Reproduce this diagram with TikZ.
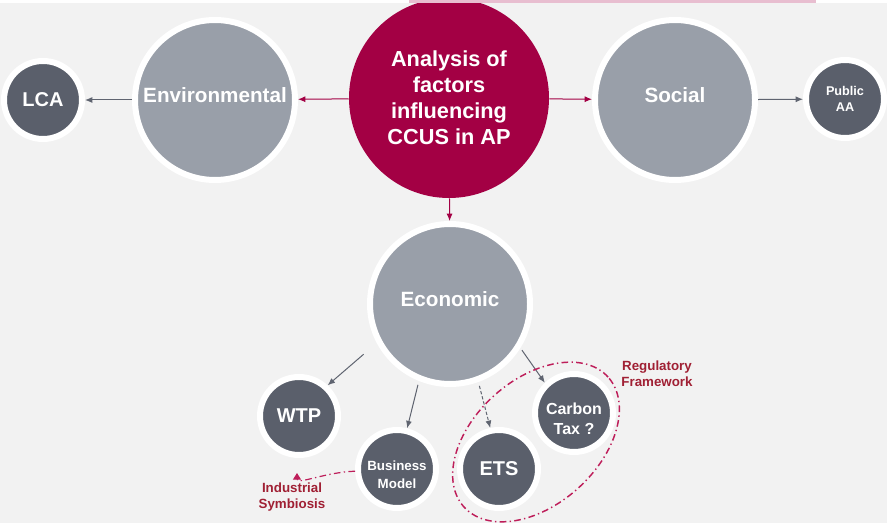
\documentclass[tikz,border=0pt]{standalone}
\usepackage{fontspec}
\setmainfont{Liberation Sans}
\usetikzlibrary{arrows.meta}

\definecolor{bg}{RGB}{242,242,242}
\definecolor{crim}{RGB}{163,0,68}
\definecolor{midgrey}{RGB}{153,159,169}
\definecolor{darkgrey}{RGB}{90,95,107}
\definecolor{linegrey}{RGB}{95,100,112}
\definecolor{labred}{RGB}{160,32,52}
\definecolor{dashred}{RGB}{190,30,90}
\definecolor{topband}{RGB}{232,190,208}

\tikzstyle{big} = [circle, fill=crim, minimum size=150pt, inner sep=0pt, text=white, align=center, font=\fontsize{16.3}{19.5}\selectfont\bfseries]
\tikzstyle{mid} = [circle, fill=midgrey, draw=white, line width=4.5pt, minimum size=120pt, inner sep=0pt, text=white, align=center, text depth=8pt, font=\fontsize{15.5}{18}\selectfont\bfseries]
\tikzstyle{small} = [circle, fill=darkgrey, draw=white, line width=4.5pt, minimum size=58.5pt, inner sep=0pt, text=white, align=center, font=\fontsize{15}{18}\selectfont\bfseries]
\tikzstyle{lab} = [text=labred, align=center, font=\fontsize{10}{12}\selectfont\bfseries]

\begin{document}
\begin{tikzpicture}[x=0.75pt,y=-0.75pt,>={Latex[length=5.5pt,width=4.5pt]}]
\useasboundingbox (0,0) rectangle (887,523);
\fill[bg] (0,0) rectangle (887,523);

\node[big] (Analysis) at (449,98) {Analysis of\\factors\\influencing\\CCUS in AP};

\node[mid] (Env) at (215,100) {Environmental};
\node[mid] (Soc) at (675,100) {Social};
\node[mid] (Eco) at (450,304) {Economic};

\node[small] (LCA) at (43,100) {LCA};
\node[small, font=\fontsize{9.5}{12}\selectfont\bfseries] (Public) at (845,99) {Public\\AA};
\node[small] (WTP) at (299,416) {WTP};
\node[small, text height=29.5pt, font=\fontsize{10}{13.5}\selectfont\bfseries] (BM) at (397,469) {Business\\Model};
\node[small] (ETS) at (499,469) {ETS};
\node[small, text height=32pt, font=\fontsize{12}{15}\selectfont\bfseries] (CT) at (574,413) {Carbon\\Tax ?};

\node[lab] (Reg) at (657,374) {Regulatory\\Framework};
\node[lab] (IS) at (292,497) {Industrial\\Symbiosis};
\coordinate (ISTip) at (297,473);

\fill[white] (0,0) rectangle (887,3);
\fill[topband] (409,0) rectangle (816,3);

\path[->, crim, line width=0.75pt]
  (Analysis) edge (Env)
  (Analysis) edge (Soc)
  (Analysis) edge (Eco)
  ;

\path[->, linegrey, line width=0.75pt]
  (Env) edge (LCA)
  (Soc) edge (Public)
  (Eco.208) edge[shorten <=13pt] (WTP.47)
  (Eco.248) edge[shorten <=3pt] (BM.76)
  (Eco.290) edge[dash pattern=on 2.5pt off 1.5pt, shorten <=3pt] (ETS.102)
  (Eco.328) edge[shorten <=2pt] (CT.134)
  ;

\draw[dashred, line width=1.1pt, dash pattern=on 5pt off 2.5pt on 1pt off 2.5pt, rotate around={42:(536,442)}] (536,442) ellipse [x radius=72.75pt, y radius=46.9pt];

\draw[dashred, line width=0.9pt, dash pattern=on 5pt off 2.5pt on 1pt off 2.5pt, -{Triangle[length=5pt,width=6pt]}] (BM.183) .. controls +(-30,1) and +(0,12) .. (ISTip);

\end{tikzpicture}
\end{document}
